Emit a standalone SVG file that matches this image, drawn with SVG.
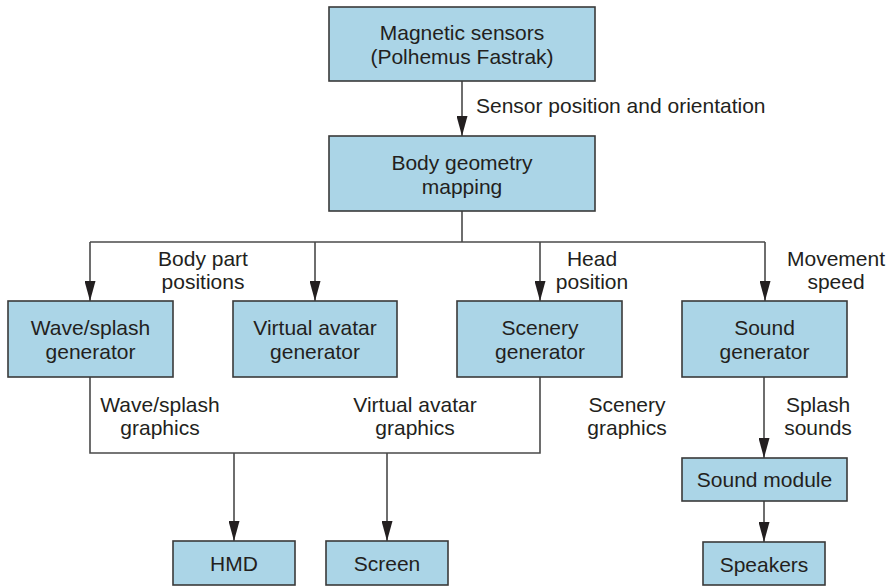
<svg xmlns="http://www.w3.org/2000/svg" width="890" height="587" viewBox="0 0 890 587">
  <style>
    .box { fill: #abd5e7; stroke: #3a3a3a; stroke-width: 1.6; }
    .t { font-family: "Liberation Sans", Arial, sans-serif; font-size: 21px; fill: #231f20; text-anchor: middle; }
    .tl { font-family: "Liberation Sans", Arial, sans-serif; font-size: 21px; fill: #231f20; text-anchor: start; }
    .wire { fill: none; stroke: #4a4a4a; stroke-width: 1.6; }
    .arrow { fill: none; stroke: #4a4a4a; stroke-width: 1.6; marker-end: url(#head); }
  </style>
  <defs>
    <marker id="head" markerUnits="userSpaceOnUse" markerWidth="20" markerHeight="11" refX="20" refY="5.5" orient="auto">
      <path d="M0,0 L20,5.5 L0,11 Z" fill="#231f20"/>
    </marker>
  </defs>
  <rect width="890" height="587" fill="#ffffff"/>

  <!-- connectors -->
  <g id="connectors">
    <!-- sensors to body mapping -->
    <path class="arrow" d="M462,81 V136"/>
    <!-- fan-out from body mapping -->
    <path class="wire" d="M462,211 V242"/>
    <path class="wire" d="M90,242 H765"/>
    <path class="arrow" d="M90,242 V301"/>
    <path class="arrow" d="M315,242 V301"/>
    <path class="arrow" d="M540,242 V301"/>
    <path class="arrow" d="M765,242 V301"/>
    <!-- graphics bus to displays -->
    <path class="wire" d="M90,377 V453 H540 V377"/>
    <path class="arrow" d="M234,453 V541"/>
    <path class="arrow" d="M387,453 V541"/>
    <!-- sound chain -->
    <path class="arrow" d="M764,377 V458"/>
    <path class="arrow" d="M764,501 V542"/>
  </g>

  <!-- connector labels -->
  <g id="labels">
    <text class="tl" x="476" y="113">Sensor position and orientation</text>
    <text class="t" x="203" y="266">Body part</text>
    <text class="t" x="203" y="289">positions</text>
    <text class="t" x="592" y="266">Head</text>
    <text class="t" x="592" y="289">position</text>
    <text class="t" x="836" y="266">Movement</text>
    <text class="t" x="836" y="289">speed</text>
    <text class="t" x="160" y="412">Wave/splash</text>
    <text class="t" x="160" y="435">graphics</text>
    <text class="t" x="415" y="412">Virtual avatar</text>
    <text class="t" x="415" y="435">graphics</text>
    <text class="t" x="627" y="412">Scenery</text>
    <text class="t" x="627" y="435">graphics</text>
    <text class="t" x="818" y="412">Splash</text>
    <text class="t" x="818" y="435">sounds</text>
  </g>

  <!-- nodes -->
  <g id="magnetic-sensors">
    <rect class="box" x="329" y="7" width="266" height="74"/>
    <text class="t" x="462" y="40">Magnetic sensors</text>
    <text class="t" x="462" y="64">(Polhemus Fastrak)</text>
  </g>
  <g id="body-geometry">
    <rect class="box" x="329" y="136" width="266" height="75"/>
    <text class="t" x="462" y="170">Body geometry</text>
    <text class="t" x="462" y="194">mapping</text>
  </g>
  <g id="wave-splash-generator">
    <rect class="box" x="8" y="301" width="165" height="76"/>
    <text class="t" x="90.5" y="335">Wave/splash</text>
    <text class="t" x="90.5" y="359">generator</text>
  </g>
  <g id="virtual-avatar-generator">
    <rect class="box" x="233" y="301" width="164" height="76"/>
    <text class="t" x="315" y="335">Virtual avatar</text>
    <text class="t" x="315" y="359">generator</text>
  </g>
  <g id="scenery-generator">
    <rect class="box" x="457" y="301" width="165" height="76"/>
    <text class="t" x="540" y="335">Scenery</text>
    <text class="t" x="540" y="359">generator</text>
  </g>
  <g id="sound-generator">
    <rect class="box" x="682" y="301" width="165" height="76"/>
    <text class="t" x="764.5" y="335">Sound</text>
    <text class="t" x="764.5" y="359">generator</text>
  </g>
  <g id="sound-module">
    <rect class="box" x="682" y="458" width="165" height="43"/>
    <text class="t" x="764.5" y="487">Sound module</text>
  </g>
  <g id="hmd">
    <rect class="box" x="173" y="541" width="122" height="44"/>
    <text class="t" x="234" y="571">HMD</text>
  </g>
  <g id="screen">
    <rect class="box" x="326" y="541" width="122" height="44"/>
    <text class="t" x="387" y="571">Screen</text>
  </g>
  <g id="speakers">
    <rect class="box" x="703" y="542" width="122" height="43"/>
    <text class="t" x="764" y="572">Speakers</text>
  </g>
</svg>
